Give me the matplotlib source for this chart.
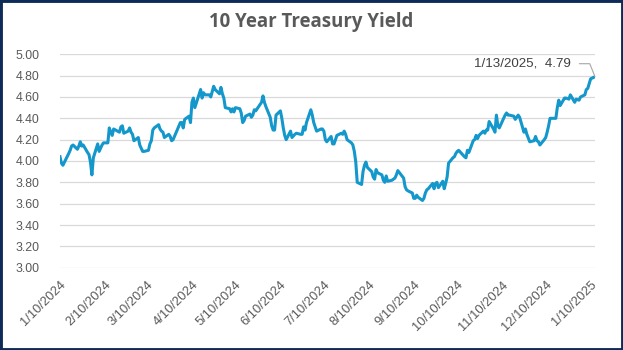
import pandas as pd
import matplotlib
matplotlib.use('Agg')
import matplotlib.pyplot as plt
import matplotlib.dates as mdates
from matplotlib.ticker import FuncFormatter
from matplotlib.patches import Rectangle

# trading days (bond market holidays removed)
start_date = '2024-01-10'
end_date = '2025-01-13'
holidays = ['2024-01-15', '2024-02-19', '2024-03-29', '2024-05-27', '2024-06-19',
            '2024-07-04', '2024-09-02', '2024-10-14', '2024-11-11', '2024-11-28',
            '2024-12-25', '2025-01-01', '2025-01-09']

# yields, month by month
jan24 = [4.04, 3.98, 3.96, 4.07, 4.10, 4.14, 4.15, 4.11, 4.14, 4.18, 4.14, 4.15, 4.08, 4.06, 3.99]
feb24 = [3.87, 4.03, 4.16, 4.09, 4.12, 4.15, 4.17, 4.17, 4.31, 4.27, 4.24, 4.30, 4.27, 4.32,
         4.33, 4.26, 4.28, 4.31, 4.27, 4.25]
mar24 = [4.19, 4.22, 4.15, 4.12, 4.09, 4.09, 4.10, 4.16, 4.19, 4.29, 4.31, 4.34, 4.30, 4.28,
         4.27, 4.22, 4.25, 4.23, 4.19, 4.20]
apr24 = [4.33, 4.36, 4.36, 4.31, 4.39, 4.42, 4.36, 4.55, 4.59, 4.50, 4.63, 4.67, 4.59, 4.64,
         4.62, 4.62, 4.60, 4.65, 4.70, 4.67, 4.63, 4.69]
may24 = [4.63, 4.59, 4.50, 4.49, 4.46, 4.49, 4.46, 4.50, 4.49, 4.45, 4.36, 4.38, 4.42, 4.44,
         4.41, 4.43, 4.48, 4.47, 4.55, 4.61, 4.55, 4.51]
jun24 = [4.41, 4.33, 4.29, 4.29, 4.43, 4.47, 4.40, 4.31, 4.24, 4.20, 4.28, 4.22, 4.25, 4.26,
         4.25, 4.25, 4.32, 4.29, 4.36]
jul24 = [4.48, 4.43, 4.36, 4.28, 4.30, 4.30, 4.28, 4.20, 4.18, 4.23, 4.16, 4.16, 4.20, 4.24,
         4.26, 4.25, 4.28, 4.25, 4.20, 4.17, 4.15, 4.09]
aug24 = [3.99, 3.80, 3.78, 3.90, 3.96, 3.99, 3.94, 3.90, 3.85, 3.83, 3.92, 3.89, 3.87, 3.82,
         3.80, 3.86, 3.81, 3.82, 3.83, 3.84, 3.87, 3.91]
sep24 = [3.84, 3.76, 3.73, 3.72, 3.70, 3.65, 3.65, 3.68, 3.66, 3.63, 3.65, 3.70, 3.73, 3.74,
         3.79, 3.74, 3.79, 3.80, 3.75, 3.81]
oct24 = [3.74, 3.79, 3.85, 3.98, 4.03, 4.04, 4.07, 4.09, 4.10, 4.04, 4.03, 4.10, 4.08, 4.19,
         4.20, 4.24, 4.21, 4.24, 4.28, 4.26, 4.29, 4.29]
nov24 = [4.37, 4.30, 4.27, 4.43, 4.33, 4.31, 4.43, 4.45, 4.43, 4.43, 4.42, 4.39, 4.41, 4.43,
         4.41, 4.27, 4.30, 4.25, 4.18]
dec24 = [4.19, 4.23, 4.19, 4.18, 4.15, 4.20, 4.22, 4.27, 4.33, 4.40, 4.40, 4.40, 4.50, 4.57,
         4.52, 4.59, 4.59, 4.58, 4.62, 4.55, 4.58]
jan25 = [4.57, 4.60, 4.62, 4.67, 4.68, 4.77, 4.79]

title = '10 Year Treasury Yield'
yticks = [3.0 + 0.2 * i for i in range(11)]


def main():
    dates = pd.bdate_range(start_date, end_date).drop(pd.to_datetime(holidays))
    values = (jan24 + feb24 + mar24 + apr24 + may24 + jun24 + jul24 + aug24 + sep24
              + oct24 + nov24 + dec24 + jan25)
    assert len(dates) == len(values), (len(dates), len(values))

    grey = '#595959'
    fig = plt.figure(figsize=(6.23, 3.5), dpi=100)
    fig.patch.set_facecolor('white')
    ax = fig.add_axes([60 / 623, 1 - 267.7 / 350, 535 / 623, 213.4 / 350])

    ax.plot(dates, values, color='#1497CB', lw=2.2, solid_joinstyle='round', zorder=3)

    ax.set_ylim(3.0, 5.0)
    ax.set_yticks(yticks)
    ax.yaxis.set_major_formatter(FuncFormatter(lambda v, p: f'{v:.2f}'))
    ax.set_xlim(pd.Timestamp(start_date), pd.Timestamp(end_date))
    ax.xaxis.set_major_locator(mdates.DayLocator(bymonthday=10))
    ax.xaxis.set_major_formatter(FuncFormatter(
        lambda v, p: '{d.month}/{d.day}/{d.year}'.format(d=mdates.num2date(v))))

    ax.grid(axis='y', color='#D9D9D9', lw=0.9, zorder=0)
    for s in ax.spines.values():
        s.set_visible(False)
    ax.tick_params(length=0, labelcolor=grey, labelfontfamily='Liberation Sans')
    ax.tick_params(axis='y', pad=15, labelsize=8.9)
    ax.tick_params(axis='x', pad=8, labelsize=9.3)
    for lab in ax.get_xticklabels():
        lab.set_rotation(45)
        lab.set_ha('right')
        lab.set_rotation_mode('anchor')

    ax.annotate('1/13/2025,  4.79', xy=(dates[-1], values[-1]), xytext=(-24, 13),
                textcoords='offset pixels', ha='right', va='center', fontsize=9.6,
                family='Liberation Sans', color='#404040',
                arrowprops=dict(arrowstyle='-', color='#A6A6A6', lw=0.8, shrinkA=4, shrinkB=0,
                                relpos=(1, 0.5),
                                connectionstyle='angle,angleA=0,angleB=112,rad=0'))

    fig.text(0.5, 1 - 22 / 350, title, ha='center', va='center', fontsize=13.4,
             fontweight='bold', family='Open Sans', color=grey)

    fig.patches.append(Rectangle((0, 0), 1, 1, transform=fig.transFigure, fill=False,
                                 edgecolor='#0E2B58', lw=3.5))

    fig.savefig('out.png', dpi=100)
    plt.close('all')


if __name__ == '__main__':
    main()
